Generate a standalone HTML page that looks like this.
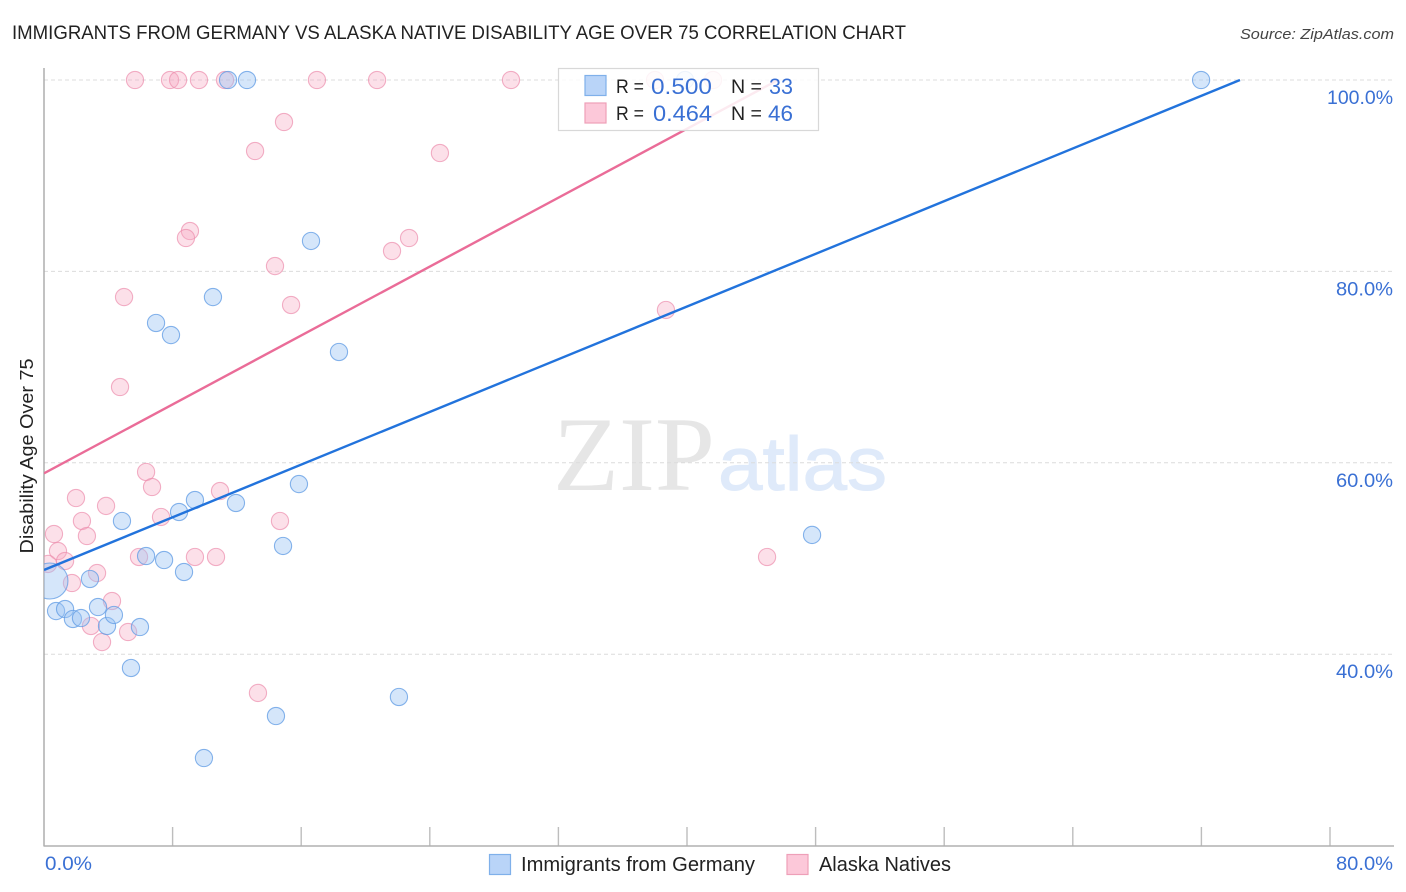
<!DOCTYPE html>
<html lang="en">
<head>
<meta charset="utf-8">
<title>Immigrants from Germany vs Alaska Native Disability Age Over 75 Correlation Chart</title>
<style>
html,body{margin:0;padding:0;background:#fff;width:1406px;height:892px;overflow:hidden}
svg{display:block}
text{font-family:"Liberation Sans",sans-serif}
</style>
</head>
<body>
<svg id="chart" width="1406" height="892" viewBox="0 0 1406 892" xmlns="http://www.w3.org/2000/svg">
<defs><clipPath id="plot-clip"><rect x="44" y="60" width="1360" height="790"/></clipPath></defs>
<text x="12" y="39" font-size="19" fill="#222" textLength="894" lengthAdjust="spacingAndGlyphs">IMMIGRANTS FROM GERMANY VS ALASKA NATIVE DISABILITY AGE OVER 75 CORRELATION CHART</text>
<text x="1394" y="39" font-size="15" font-style="italic" fill="#444" text-anchor="end" textLength="154" lengthAdjust="spacingAndGlyphs">Source: ZipAtlas.com</text>
<g>
<text x="553" y="490" font-size="106" fill="#e6e6e6" style="font-family:'Liberation Serif',serif" textLength="162" lengthAdjust="spacingAndGlyphs">ZIP</text>
<text x="718" y="490" font-size="76" fill="#dfeafa" stroke="#dfeafa" stroke-width="1" textLength="169" lengthAdjust="spacingAndGlyphs">atlas</text>
</g>
<g id="grid"></g>
<g id="axes"></g>
<g id="marks" clip-path="url(#plot-clip)"></g>
<g id="lines" clip-path="url(#plot-clip)"></g>
<g>
<rect x="558.5" y="68.5" width="260" height="62" fill="#fff" fill-opacity="0.86" stroke="#d8d8d8" stroke-width="1.2"/>
<rect x="585" y="75.500" width="21" height="20" fill="#b9d4f8" stroke="#7fb0ea" stroke-width="1.2"/>
<rect x="585" y="103" width="21" height="20" fill="#fcc8d9" stroke="#ee9fb8" stroke-width="1.2"/>
<text x="616" y="93" font-size="19" fill="#222" textLength="28" lengthAdjust="spacingAndGlyphs">R =</text>
<text x="651" y="94" font-size="22" fill="#3a70d4" textLength="61" lengthAdjust="spacingAndGlyphs">0.500</text>
<text x="731" y="93" font-size="19" fill="#222" textLength="31" lengthAdjust="spacingAndGlyphs">N =</text>
<text x="769" y="94" font-size="22" fill="#3a70d4" textLength="24" lengthAdjust="spacingAndGlyphs">33</text>
<text x="616" y="120" font-size="19" fill="#222" textLength="28" lengthAdjust="spacingAndGlyphs">R =</text>
<text x="653" y="121" font-size="22" fill="#3a70d4" textLength="59" lengthAdjust="spacingAndGlyphs">0.464</text>
<text x="731" y="120" font-size="19" fill="#222" textLength="31" lengthAdjust="spacingAndGlyphs">N =</text>
<text x="768" y="121" font-size="22" fill="#3a70d4" textLength="25" lengthAdjust="spacingAndGlyphs">46</text>
</g>
<g>
<rect x="489.500" y="854.500" width="21" height="20" fill="#b9d4f8" stroke="#7fb0ea" stroke-width="1.2"/>
<text x="521" y="871" font-size="20" fill="#222" textLength="234" lengthAdjust="spacingAndGlyphs">Immigrants from Germany</text>
<rect x="787" y="854.500" width="21" height="20" fill="#fcc8d9" stroke="#ee9fb8" stroke-width="1.2"/>
<text x="819" y="871" font-size="20" fill="#222" textLength="132" lengthAdjust="spacingAndGlyphs">Alaska Natives</text>
</g>
</svg>
<script>
const xTickValues = [8, 16, 24, 32, 40, 48, 56, 64, 72, 80];
const xEndLabels = ["0.0%", "80.0%"];
const yTickValues = [100, 80, 60, 40];
const yTickLabels = ["100.0%", "80.0%", "60.0%", "40.0%"];
const germanyX = [0.37,0.75,1.31,1.80,2.30,2.86,3.36,3.92,4.35,5.97,5.41,4.85,6.35,7.47,8.71,8.40,9.39,11.94,14.87,15.86,14.43,9.95,22.08,47.78,18.35,7.90,6.97,10.51,16.61,11.45,12.63,71.98,39.88];
const germanyY = [47.65,44.51,44.72,43.68,43.78,47.86,44.93,42.95,44.10,42.84,38.56,53.92,50.26,49.84,48.59,54.86,56.11,55.80,51.31,57.78,33.54,29.15,35.53,52.46,71.58,73.35,74.61,77.32,83.18,100,100,100,100];
const germanySizes = [2,1,1,1,1,1,1,1,1,1,1,1,1,1,1,1,1,1,1,1,1,1,1,1,1,1,1,1,1,1,1,1,1];
const alaskaX = [5.66,7.84,8.34,9.64,11.26,16.98,20.72,29.05,38.01,41.62,14.93,13.13,24.63,9.08,8.83,22.71,21.65,14.37,4.98,15.37,38.69,4.73,6.35,6.72,1.99,3.86,10.95,7.28,2.36,14.68,0.62,2.67,0.87,1.31,0.25,5.91,9.39,10.70,44.98,3.30,1.74,4.23,2.92,5.23,3.61,13.31];
const alaskaY = [100,100,100,100,100,100,100,100,100,100,95.61,92.58,92.37,84.22,83.49,83.49,82.13,80.56,77.32,76.49,75.97,67.92,59.04,57.47,56.32,55.49,57.05,54.34,53.92,53.92,52.56,52.35,50.78,49.74,49.43,50.16,50.16,50.16,50.16,48.48,47.44,45.56,42.95,42.32,41.27,35.95];
const germanyTrendX = [0, 74.4];
const germanyTrendY = [48.8, 100];
const alaskaTrendX = [0, 45.66];
const alaskaTrendY = [58.9, 100];

const NS = 'http://www.w3.org/2000/svg';
const xScale = v => 44 + v * 16.075;
const yScale = v => 80 + (100 - v) * 9.57;
const labelWidth = s => 9 * s.length + 12;
function make(tag, attrs, parent) {
  const el = document.createElementNS(NS, tag);
  for (const k in attrs) el.setAttribute(k, attrs[k]);
  parent.appendChild(el);
  return el;
}
const grid = document.getElementById('grid');
const axes = document.getElementById('axes');
const marks = document.getElementById('marks');
const lines = document.getElementById('lines');

yTickValues.forEach((v, i) => {
  const g = make('line', {x1: 44, x2: 1393, y1: yScale(v), y2: yScale(v), stroke: '#dcdcdc', 'stroke-width': 1, 'stroke-dasharray': '4 3'}, grid);
  
  
  const t = make('text', {x: 1393, y: yScale(v) + 24, 'font-size': 19, fill: '#3a70d4', 'text-anchor': 'end', textLength: labelWidth(yTickLabels[i]), lengthAdjust: 'spacingAndGlyphs'}, axes);
  
  
  t.textContent = yTickLabels[i];
});
xTickValues.forEach(v => {
  const t = make('line', {x1: xScale(v), x2: xScale(v), y1: 827, y2: 846, stroke: '#bdbdbd', 'stroke-width': 1.4}, axes);
  
  
});
const yAxis = make('line', {x1: 44, x2: 44, y1: 68, y2: 846.500, stroke: '#a8a8a8', 'stroke-width': 1.4}, axes);


const xAxis = make('line', {x1: 44, x2: 1394, y1: 846, y2: 846, stroke: '#b0b0b0', 'stroke-width': 1.4}, axes);


const xMin = make('text', {x: 45, y: 870, 'font-size': 19, fill: '#3a70d4', textLength: labelWidth(xEndLabels[0]) - 1, lengthAdjust: 'spacingAndGlyphs'}, axes);


xMin.textContent = xEndLabels[0];
const xMax = make('text', {x: 1393, y: 870, 'font-size': 19, fill: '#3a70d4', 'text-anchor': 'end', textLength: labelWidth(xEndLabels[1]), lengthAdjust: 'spacingAndGlyphs'}, axes);


xMax.textContent = xEndLabels[1];
const yTitle = make('text', {x: 0, y: 0, 'font-size': 18, fill: '#222', 'text-anchor': 'middle', transform: 'translate(33 456) rotate(-90)', textLength: 195, lengthAdjust: 'spacingAndGlyphs'}, axes);


yTitle.textContent = 'Disability Age Over 75';

alaskaX.forEach((v, i) => {
  const c = make('circle', {cx: xScale(v), cy: yScale(alaskaY[i]), r: 8.6, fill: '#f8a8c2', 'fill-opacity': 0.36, stroke: '#ec8fae', 'stroke-opacity': 0.7, 'stroke-width': 1.1}, marks);
  
  
});
germanyX.forEach((v, i) => {
  const c = make('circle', {cx: xScale(v), cy: yScale(germanyY[i]), r: germanySizes[i] > 1 ? 18 : 8.6, fill: '#9cc4f2', 'fill-opacity': 0.42, stroke: '#5f9be4', 'stroke-opacity': 0.75, 'stroke-width': 1.1}, marks);
  
  
});
const germanyLine = make('line', {x1: xScale(germanyTrendX[0]), y1: yScale(germanyTrendY[0]), x2: xScale(germanyTrendX[1]), y2: yScale(germanyTrendY[1]), stroke: '#2273dc', 'stroke-width': 2.4}, lines);


const alaskaLine = make('line', {x1: xScale(alaskaTrendX[0]), y1: yScale(alaskaTrendY[0]), x2: xScale(alaskaTrendX[1]), y2: yScale(alaskaTrendY[1]), stroke: '#ea6c98', 'stroke-width': 2.4}, lines);


</script>
</body>
</html>
